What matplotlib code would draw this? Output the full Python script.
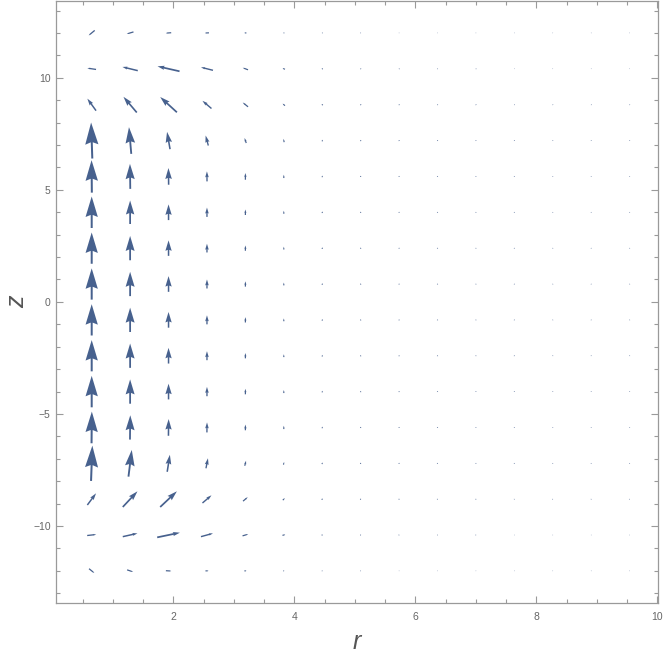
import matplotlib
matplotlib.use("Agg")
import matplotlib.pyplot as plt
import numpy as np

plt.rcParams['font.family'] = ['Liberation Sans', 'DejaVu Sans']

# grid of arrow centres
r_vals = [0.651, 1.286, 1.921, 2.556, 3.191, 3.826, 4.461, 5.096, 5.731,
          6.366, 7.001, 7.636, 8.271, 8.906, 9.541]
z_vals = [12.0, 10.4, 8.8, 7.2, 5.6, 4.0, 2.4, 0.8,
          -0.8, -2.4, -4.0, -5.6, -7.2, -8.8, -10.4, -12.0]

# arrow components as drawn (screen pixels, +u right, +v up), one list per row (z from top)
U = [
    [-6.0, -6.7, -5.3, -4.0, -2.0, -1.0, -0.8, -0.7, -0.6, -0.6, -0.5, -0.5, -0.5, -0.5, -0.5],
    [-8.7, -15.3, -22.0, -12.0, -5.3, -2.3, -1.2, -0.9, -0.8, -0.7, -0.7, -0.6, -0.6, -0.6, -0.6],
    [-8.7, -13.3, -16.7, -9.0, -5.3, -2.3, -1.1, -0.8, -0.7, -0.6, -0.6, -0.5, -0.5, -0.5, -0.5],
    [-1.2, -2.3, -3.0, -2.7, -1.7, -0.7, -0.4, -0.3, -0.3, -0.2, -0.2, -0.2, -0.2, -0.2, -0.2],
    [-0.3, -0.3, -0.2, -0.1, 0.0, 0.0, 0.0, 0.0, 0.0, 0.0, 0.0, 0.0, 0.0, 0.0, 0.0],
    [0.0, 0.0, 0.0, 0.0, 0.0, 0.0, 0.0, 0.0, 0.0, 0.0, 0.0, 0.0, 0.0, 0.0, 0.0],
    [0.0, 0.0, 0.0, 0.0, 0.0, 0.0, 0.0, 0.0, 0.0, 0.0, 0.0, 0.0, 0.0, 0.0, 0.0],
    [0.0, 0.0, 0.0, 0.0, 0.0, 0.0, 0.0, 0.0, 0.0, 0.0, 0.0, 0.0, 0.0, 0.0, 0.0],
    [0.0, 0.0, 0.0, 0.0, 0.0, 0.0, 0.0, 0.0, 0.0, 0.0, 0.0, 0.0, 0.0, 0.0, 0.0],
    [0.0, 0.0, 0.0, 0.0, 0.0, 0.0, 0.0, 0.0, 0.0, 0.0, 0.0, 0.0, 0.0, 0.0, 0.0],
    [0.0, 0.0, 0.0, 0.0, 0.0, 0.0, 0.0, 0.0, 0.0, 0.0, 0.0, 0.0, 0.0, 0.0, 0.0],
    [0.3, 0.3, 0.2, 0.1, 0.0, 0.0, 0.0, 0.0, 0.0, 0.0, 0.0, 0.0, 0.0, 0.0, 0.0],
    [1.3, 3.3, 2.7, 2.0, 1.3, 0.7, 0.4, 0.3, 0.3, 0.2, 0.2, 0.2, 0.2, 0.2, 0.2],
    [8.7, 14.7, 16.7, 9.0, 4.7, 2.0, 1.1, 0.8, 0.7, 0.6, 0.6, 0.5, 0.5, 0.5, 0.5],
    [9.0, 14.7, 22.7, 12.0, 5.7, 2.7, 1.2, 0.9, 0.8, 0.7, 0.7, 0.6, 0.6, 0.6, 0.6],
    [5.3, 6.0, 5.3, 3.0, 2.0, 1.0, 0.8, 0.7, 0.6, 0.6, 0.5, 0.5, 0.5, 0.5, 0.5],
]
V = [
    [-5.0, -2.0, -0.4, -0.2, 0.0, 0.0, 0.0, 0.0, 0.0, 0.0, 0.0, 0.0, 0.0, 0.0, 0.0],
    [1.3, 3.7, 5.0, 3.0, 2.0, 1.0, 0.4, 0.3, 0.2, 0.2, 0.2, 0.2, 0.2, 0.2, 0.2],
    [12.0, 15.7, 15.3, 7.7, 4.3, 2.0, 1.0, 0.8, 0.7, 0.6, 0.6, 0.5, 0.5, 0.5, 0.5],
    [36.0, 26.7, 17.3, 10.0, 5.0, 3.3, 1.6, 1.2, 1.0, 0.9, 0.8, 0.8, 0.7, 0.7, 0.7],
    [32.5, 25.0, 16.7, 10.0, 6.7, 3.3, 1.6, 1.2, 1.0, 0.9, 0.8, 0.8, 0.7, 0.7, 0.7],
    [31.5, 23.5, 15.7, 9.3, 5.5, 3.0, 1.6, 1.2, 1.0, 0.9, 0.8, 0.8, 0.7, 0.7, 0.7],
    [31.3, 24.3, 15.5, 8.7, 5.3, 2.8, 1.6, 1.2, 1.0, 0.9, 0.8, 0.8, 0.7, 0.7, 0.7],
    [31.3, 24.3, 15.7, 9.0, 5.3, 2.8, 1.6, 1.2, 1.0, 0.9, 0.8, 0.8, 0.7, 0.7, 0.7],
    [31.3, 24.3, 15.7, 9.0, 5.3, 2.8, 1.6, 1.2, 1.0, 0.9, 0.8, 0.8, 0.7, 0.7, 0.7],
    [31.3, 24.3, 15.7, 9.0, 5.3, 2.8, 1.6, 1.2, 1.0, 0.9, 0.8, 0.8, 0.7, 0.7, 0.7],
    [31.5, 24.3, 15.7, 9.3, 5.5, 3.0, 1.6, 1.2, 1.0, 0.9, 0.8, 0.8, 0.7, 0.7, 0.7],
    [31.7, 24.3, 16.7, 10.0, 5.7, 3.3, 1.6, 1.2, 1.0, 0.9, 0.8, 0.8, 0.7, 0.7, 0.7],
    [35.3, 26.7, 17.0, 10.0, 5.0, 2.7, 1.6, 1.2, 1.0, 0.9, 0.8, 0.8, 0.7, 0.7, 0.7],
    [11.7, 15.7, 15.7, 7.7, 4.0, 2.0, 1.0, 0.8, 0.7, 0.6, 0.6, 0.5, 0.5, 0.5, 0.5],
    [1.0, 3.3, 4.7, 3.3, 1.7, 0.7, 0.3, 0.3, 0.2, 0.2, 0.2, 0.2, 0.2, 0.2, 0.2],
    [-4.3, -2.0, -0.3, 0.0, 0.0, 0.0, 0.0, 0.0, 0.0, 0.0, 0.0, 0.0, 0.0, 0.0, 0.0],
]
# arrowhead length (pixels)
H = [
    [2.0, 2.0, 1.5, 1.2, 0.8, 0.5, 0.4, 0.3, 0.3, 0.3, 0.3, 0.3, 0.3, 0.3, 0.3],
    [3.0, 5.0, 7.0, 4.0, 2.0, 1.0, 0.6, 0.4, 0.4, 0.3, 0.3, 0.3, 0.3, 0.3, 0.3],
    [7.0, 9.5, 10.0, 5.5, 3.0, 1.5, 0.7, 0.5, 0.4, 0.4, 0.3, 0.3, 0.3, 0.3, 0.3],
    [22.0, 16.0, 10.7, 7.0, 3.5, 2.0, 1.0, 0.7, 0.6, 0.5, 0.5, 0.4, 0.4, 0.4, 0.4],
    [20.7, 15.3, 11.0, 6.0, 4.0, 2.0, 1.0, 0.7, 0.6, 0.5, 0.5, 0.4, 0.4, 0.4, 0.4],
    [20.5, 14.0, 10.5, 6.0, 3.5, 2.0, 1.0, 0.7, 0.6, 0.5, 0.5, 0.4, 0.4, 0.4, 0.4],
    [20.5, 15.0, 10.5, 6.0, 3.5, 2.0, 1.0, 0.7, 0.6, 0.5, 0.5, 0.4, 0.4, 0.4, 0.4],
    [20.5, 15.0, 10.5, 6.0, 3.5, 2.0, 1.0, 0.7, 0.6, 0.5, 0.5, 0.4, 0.4, 0.4, 0.4],
    [20.5, 15.0, 10.5, 6.0, 3.5, 2.0, 1.0, 0.7, 0.6, 0.5, 0.5, 0.4, 0.4, 0.4, 0.4],
    [20.5, 15.0, 10.5, 6.0, 3.5, 2.0, 1.0, 0.7, 0.6, 0.5, 0.5, 0.4, 0.4, 0.4, 0.4],
    [20.5, 15.0, 10.5, 6.0, 3.5, 2.0, 1.0, 0.7, 0.6, 0.5, 0.5, 0.4, 0.4, 0.4, 0.4],
    [20.5, 15.0, 10.5, 6.0, 4.0, 2.0, 1.0, 0.7, 0.6, 0.5, 0.5, 0.4, 0.4, 0.4, 0.4],
    [21.7, 16.0, 9.5, 6.5, 3.5, 2.0, 1.0, 0.7, 0.6, 0.5, 0.5, 0.4, 0.4, 0.4, 0.4],
    [7.0, 9.5, 10.0, 5.5, 3.0, 1.5, 0.7, 0.5, 0.4, 0.4, 0.3, 0.3, 0.3, 0.3, 0.3],
    [3.0, 5.0, 7.0, 4.0, 2.0, 1.0, 0.6, 0.4, 0.4, 0.3, 0.3, 0.3, 0.3, 0.3, 0.3],
    [2.0, 2.0, 1.5, 1.2, 0.8, 0.5, 0.4, 0.3, 0.3, 0.3, 0.3, 0.3, 0.3, 0.3, 0.3],
]

x_major = [2, 4, 6, 8, 10]
y_major = [-10, -5, 0, 5, 10]

ARROW = '#47618e'
FRAME = '#9a9a9a'
TEXT = '#666666'

W, Hpx = 664, 657
fig = plt.figure(figsize=(W / 100, Hpx / 100), dpi=100)
ax = fig.add_axes([56.3 / W, (Hpx - 602.7) / Hpx, (658.0 - 56.3) / W, (602.7 - 1.1) / Hpx])
ax.set_xlim(0.066, 10.01)
ax.set_ylim(-13.42, 13.42)

for j, z in enumerate(z_vals):
    for i, r in enumerate(r_vals):
        u, v, hl = U[j][i], V[j][i], H[j][i]
        L = float(np.hypot(u, v))
        sw = min(2.0, 1.05 + 0.03 * L)
        ax.quiver([r], [z], [u], [v], angles='uv', scale_units='dots', scale=1,
                  units='dots', width=sw, headwidth=max(1.0, 0.6 * hl / sw),
                  headlength=max(0.5, hl / sw), headaxislength=max(0.45, 0.9 * hl / sw),
                  pivot='middle', color=ARROW, minshaft=0.5, minlength=0.6,
                  linewidth=0)

ax.set_xticks(x_major)
ax.set_xticks(np.arange(0.5, 10.01, 0.5), minor=True)
ax.set_yticks(y_major)
ax.set_yticks(np.arange(-13, 13.1, 1), minor=True)
ax.tick_params(which='both', direction='in', top=True, right=True, color=FRAME,
               width=0.8, labelsize=7.5, labelcolor=TEXT)
ax.tick_params(which='major', length=5, pad=4)
ax.tick_params(which='minor', length=3)
ax.tick_params(axis='x', which='major', pad=7)
for s in ax.spines.values():
    s.set_color(FRAME)
    s.set_linewidth(0.9)

ax.set_xlabel('r', fontstyle='italic', fontsize=18, color='#555555')
ax.set_ylabel('z', fontstyle='italic', fontsize=18, color='#555555')
ax.xaxis.label.set_va('center')
ax.yaxis.label.set_va('center')
ax.xaxis.set_label_coords(0.5, -0.0653)
ax.yaxis.set_label_coords(-0.0653, 0.5)

fig.savefig('out.png', dpi=100)
